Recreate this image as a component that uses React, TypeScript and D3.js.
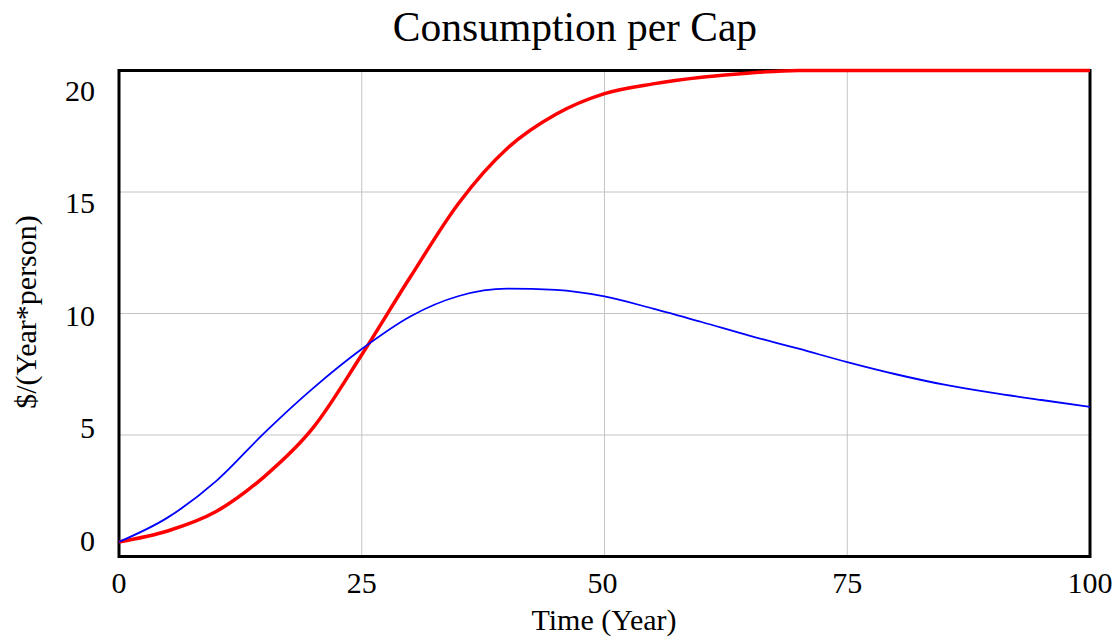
import React from 'react';
import * as d3 from 'd3';

const years = [0, 5, 10, 15, 20, 25, 30, 35, 40, 45, 50, 55, 60, 65, 70, 75, 80, 85, 90, 95, 100];
const redSeries = [0.6, 1.05, 1.85, 3.3, 5.3, 8.3, 11.5, 14.55, 16.8, 18.2, 19.05, 19.45, 19.72, 19.9, 20, 20, 20, 20, 20, 20, 20];
const blueSeries = [0.6, 1.6, 3.1, 5.1, 6.93, 8.54, 9.88, 10.72, 11.02, 10.97, 10.7, 10.2, 9.65, 9.08, 8.55, 8.0, 7.5, 7.07, 6.73, 6.44, 6.16];
const xTicks = [0, 25, 50, 75, 100];
const yTicks = [0, 5, 10, 15, 20];

const W = 1120;
const H = 641;
const font = '"Liberation Serif", "Times New Roman", serif';

const App: React.FC = () => {
  const x = d3.scaleLinear().domain([0, 100]).range([119, 1090]);
  const y = d3.scaleLinear().domain([0, 20]).range([556.5, 70.5]);
  // Vensim spreads the y labels inside the frame
  const yLabel = d3.scaleLinear().domain([0, 20]).range([540, 90.5]);

  const line = d3.line<number>()
    .x((d, i) => x(years[i]))
    .y(d => y(d))
    .curve(d3.curveMonotoneX);

  return (
    <svg width={W} height={H} style={{ position: 'absolute', left: 0, top: 0 }}>
      <rect width={W} height={H} fill="#fff" />
      <text x={575} y={41} textAnchor="middle" fontFamily={font} fontSize={41.5}>Consumption per Cap</text>
      {xTicks.slice(1, -1).map(t => (
        <line key={'gx' + t} x1={x(t)} x2={x(t)} y1={y(20)} y2={y(0)} stroke="#c4c4c4" strokeWidth={1} />
      ))}
      {yTicks.slice(1, -1).map(t => (
        <line key={'gy' + t} x1={x(0)} x2={x(100)} y1={y(t)} y2={y(t)} stroke="#c4c4c4" strokeWidth={1} />
      ))}
      <rect x={x(0)} y={y(20)} width={x(100) - x(0)} height={y(0) - y(20)} fill="none" stroke="#000" strokeWidth={3} />
      <path d={line(redSeries) || ''} fill="none" stroke="#ff0000" strokeWidth={3.5} />
      <path d={line(blueSeries) || ''} fill="none" stroke="#0000ff" strokeWidth={1.8} />
      {xTicks.map(t => (
        <text key={'tx' + t} x={t === 50 ? x(t) - 2 : x(t)} y={593} textAnchor="middle" fontFamily={font} fontSize={30}>{t}</text>
      ))}
      {yTicks.map(t => (
        <text key={'ty' + t} x={95} y={yLabel(t)} textAnchor="end" dominantBaseline="central" fontFamily={font} fontSize={30}>{t}</text>
      ))}
      <text x={604} y={630} textAnchor="middle" fontFamily={font} fontSize={30}>Time (Year)</text>
      <text transform="translate(36,312) rotate(-90)" textAnchor="middle" fontFamily={font} fontSize={30}>$/(Year*person)</text>
    </svg>
  );
};

export default App;
